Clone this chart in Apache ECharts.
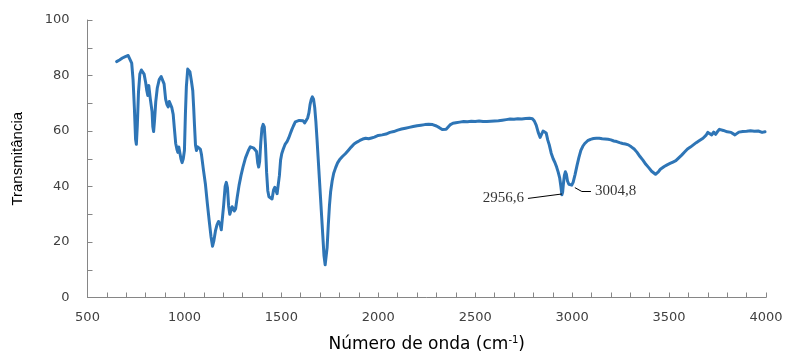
<!DOCTYPE html>
<html>
<head>
<meta charset="utf-8">
<script src="https://cdn.jsdelivr.net/npm/echarts@6/dist/echarts.min.js"></script>
<style>
html,body{margin:0;padding:0;background:#fff;}
#chart{width:789px;height:358px;}
</style>
</head>
<body>
<div id="chart"></div>
<script>
// Wavenumber (cm-1) and transmittance (%)
var wavenumbers = [650,665,680,695,710,720,728,735,742,748,752,757,763,770,778,785,792,800,806,811,816,820,824,828,833,837,841,846,852,860,870,880,887,895,903,910,916,922,928,935,942,948,955,962,966,971,976,982,988,994,1000,1005,1010,1017,1022,1028,1036,1043,1048,1052,1057,1062,1068,1075,1082,1088,1098,1108,1118,1128,1137,1145,1152,1160,1168,1176,1184,1190,1195,1202,1210,1216,1222,1228,1234,1240,1246,1252,1258,1264,1272,1282,1292,1302,1315,1330,1340,1350,1358,1365,1372,1378,1383,1388,1394,1400,1406,1412,1418,1424,1430,1436,1444,1452,1460,1466,1472,1478,1484,1490,1496,1502,1510,1520,1530,1538,1546,1554,1562,1572,1582,1592,1602,1612,1620,1628,1636,1642,1648,1654,1660,1666,1672,1678,1684,1690,1696,1702,1708,1714,1720,1726,1731,1736,1742,1748,1754,1762,1770,1780,1790,1800,1815,1830,1845,1860,1875,1890,1905,1920,1935,1950,1965,1980,2000,2020,2040,2060,2080,2100,2120,2140,2160,2180,2200,2220,2240,2260,2280,2300,2315,2330,2340,2350,2360,2370,2385,2400,2420,2440,2460,2480,2500,2520,2540,2560,2580,2600,2620,2640,2660,2680,2700,2720,2740,2760,2780,2795,2805,2815,2825,2835,2842,2850,2858,2866,2874,2882,2892,2902,2912,2920,2928,2936,2942,2947,2951,2955,2960,2965,2970,2976,2983,2990,2998,3005,3015,3025,3035,3045,3055,3065,3080,3095,3110,3125,3140,3155,3170,3185,3200,3215,3230,3245,3260,3275,3290,3305,3320,3335,3350,3365,3380,3395,3410,3420,3430,3438,3446,3455,3465,3475,3490,3505,3520,3535,3550,3565,3580,3595,3610,3625,3640,3655,3665,3675,3690,3700,3710,3720,3730,3740,3750,3760,3770,3780,3790,3800,3810,3820,3830,3840,3850,3860,3870,3880,3890,3900,3910,3920,3930,3940,3950,3960,3970,3980,3995];
var transmittance = [85.0,85.6,86.3,86.8,87.2,86.9,84.5,78.5,68,57,55.2,62,74,80.5,82.0,82.1,80.5,77.5,74.5,72.8,76.4,74,71.6,72.2,67,61.5,59.8,64,70.5,75.5,78.5,79.6,79.7,77,71.5,69.5,68.7,70.6,70.2,68.4,66,61,55.5,53.2,52.3,54.2,53.6,50,48.6,50,53,66,76,82.3,82.5,81.4,78,74.5,68,62,55,53,54.3,54.6,53.5,51.5,46,41,34,27.5,22,18.5,20.5,24,26.2,27.4,26.5,24.4,25,33,40,41.5,39.5,33,30,30.5,32.7,32.3,31.2,32,36,40.5,44,47,50.3,53,54.3,54.4,53.8,54.2,52.6,48.5,47,49,56,61,62.4,61.5,55,45,38.5,36.3,35.6,35.5,38.8,39.7,39,37.4,38,44,49.5,51.8,53.5,55.3,56.3,57.5,59,60.5,61.8,63.3,63.8,63.8,63.3,63.7,62.9,63.8,64.8,66.5,69.5,71.3,72.3,71.5,68.5,63.5,57,50,43,36,29,22,15,11.8,12.5,18,26,33,38,42,44.8,46.8,48.5,49.6,50.8,51.8,53,54.2,55.3,56,56.6,57.1,57.4,57.2,57.5,57.8,58.4,58.6,58.9,59.5,59.8,60.3,60.7,61.0,61.3,61.6,61.9,62.1,62.3,62.4,62.3,61.8,61.2,60.5,60.3,60.6,61.2,62.2,62.8,63.0,63.2,63.4,63.3,63.5,63.4,63.6,63.4,63.4,63.5,63.6,63.7,63.9,64.1,64.3,64.2,64.4,64.3,64.5,64.6,64.4,63.6,62,59.5,57.7,58.3,60,60.4,59.3,56.8,55,52,50,48.5,47,45.2,43,40,37,38,41,44,45.3,44.5,42,40.8,40.3,40.5,41.5,44.3,47.5,50.5,53,54.5,55.5,56.5,57,57.3,57.4,57.4,57.2,57.1,57,56.8,56.4,56.2,55.8,55.5,55.3,55.0,54.3,53.5,52.3,50.8,49.5,48,46.8,45.5,45,44.4,44.6,45.4,46.2,46.7,47.2,47.8,48.3,48.8,49.3,50.3,51.3,52.4,53.5,54.2,55,55.8,56.5,56.2,57.4,58.4,59.5,59.1,58.6,59.6,58.8,59.8,60.6,60.9,60.2,60.8,59.7,59.9,59.5,59.1,58.6,59.3,59.6,59.2,59.8,59.5,59.9,59.6,60.1,59.7,59.9,59.4,60.0,59.8,59.5,59.7];

// Annotations: peak point, elbow of leader line, label anchor point, label text
var annotationText = ['2956,6', '3004,8'];
var annotationPeak = [[2947, 37.3], [3014, 39.6]];
var annotationElbow = [[2772, 35.7], [3050, 38.2]];
var annotationAnchor = [[2772, 35.7], [3097, 38.2]];

var xTicks = [500, 1000, 1500, 2000, 2500, 3000, 3500, 4000];
var yTicks = [0, 20, 40, 60, 80, 100];

var seriesData = wavenumbers.map(function (w, i) { return [w, transmittance[i]]; });

var leaderLines = [];
for (var i = 0; i < annotationText.length; i++) {
  leaderLines.push([{ coord: annotationPeak[i] }, { coord: annotationElbow[i] }]);
  if (annotationElbow[i][0] !== annotationAnchor[i][0] || annotationElbow[i][1] !== annotationAnchor[i][1]) {
    leaderLines.push([{ coord: annotationElbow[i] }, { coord: annotationAnchor[i] }]);
  }
}

var labelData = annotationText.map(function (t, i) {
  return {
    value: [annotationAnchor[i][0], annotationAnchor[i][1]],
    label: { position: i === 0 ? 'left' : 'right', formatter: t }
  };
});

var chart = echarts.init(document.getElementById('chart'), null, { renderer: 'canvas' });
var axisColor = '#868686';
var textColor = '#404040';
chart.setOption({
  animation: false,
  backgroundColor: '#ffffff',
  grid: { left: 87.5, right: 23, top: 20, bottom: 55, containLabel: false },
  xAxis: {
    type: 'value',
    min: 500, max: 4000, interval: 100,
    splitLine: { show: false },
    axisLine: { show: true, lineStyle: { color: axisColor, width: 1 } },
    axisTick: { show: true, inside: true, length: 5, lineStyle: { color: axisColor } },
    axisLabel: {
      margin: 14, color: textColor, fontFamily: 'DejaVu Sans', fontSize: 13,
      formatter: function (v) { return xTicks.indexOf(v) >= 0 ? String(v) : ''; }
    },
    name: 'Número de onda (cm{sup|-1})',
    nameLocation: 'middle', nameGap: 38,
    nameTextStyle: {
      color: '#000', fontFamily: 'DejaVu Sans', fontSize: 17,
      rich: { sup: { fontSize: 10, verticalAlign: 'top', padding: [0, 0, 8, 0], color: '#000', fontFamily: 'DejaVu Sans' } }
    }
  },
  yAxis: {
    type: 'value',
    min: 0, max: 100, interval: 10,
    splitLine: { show: false },
    axisLine: { show: true, lineStyle: { color: axisColor, width: 1 } },
    axisTick: { show: true, inside: true, length: 5, lineStyle: { color: axisColor } },
    axisLabel: {
      margin: 18, color: textColor, fontFamily: 'DejaVu Sans', fontSize: 13,
      formatter: function (v) { return yTicks.indexOf(v) >= 0 ? String(v) : ''; }
    },
    name: 'Transmitância',
    nameLocation: 'middle', nameGap: 62,
    nameTextStyle: { color: '#000', fontFamily: 'Liberation Sans', fontSize: 15 }
  },
  series: [
    {
      type: 'line',
      data: seriesData,
      showSymbol: false,
      symbol: 'none',
      lineStyle: { color: '#2e75b6', width: 3, join: 'round', cap: 'round' },
      silent: true,
      markLine: {
        silent: true,
        symbol: ['none', 'none'],
        label: { show: false },
        lineStyle: { color: '#000', width: 1, type: 'solid' },
        data: leaderLines
      }
    },
    {
      type: 'scatter',
      data: labelData,
      symbolSize: 0,
      silent: true,
      label: {
        show: true, distance: 4, color: '#000',
        fontFamily: 'Liberation Serif', fontSize: 15
      }
    }
  ]
});
</script>
</body>
</html>
